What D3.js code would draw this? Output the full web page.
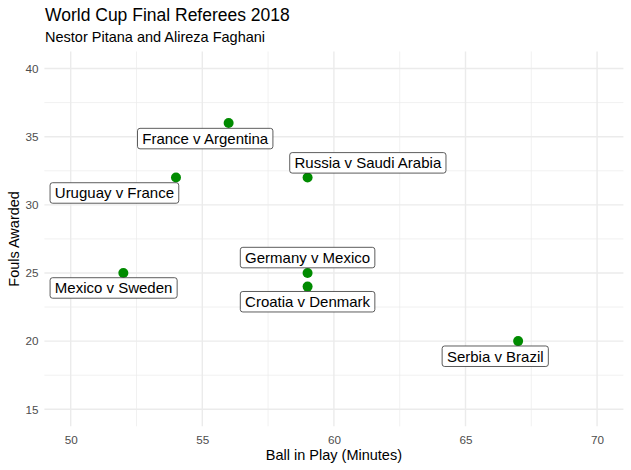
<!DOCTYPE html>
<html>
<head>
<meta charset="utf-8">
<script src="https://cdn.jsdelivr.net/npm/d3@7"></script>
<style>
  html, body { margin: 0; padding: 0; background: #fff; }
  text { font-family: "Liberation Sans", Arial, Helvetica, sans-serif; }
</style>
</head>
<body>
<svg id="chart" width="631" height="470"></svg>
<script>
// ---- data ----
const matches = ["Mexico v Sweden", "Uruguay v France", "France v Argentina", "Russia v Saudi Arabia", "Germany v Mexico", "Croatia v Denmark", "Serbia v Brazil"];
const ballInPlay = [52, 54, 56, 59, 59, 59, 67];
const foulsAwarded = [25, 32, 36, 32, 25, 24, 20];
// repelled label centres (data units), as placed in the reference
const labelX = [51.63, 51.66, 55.11, 61.29, 59.0, 59.0, 66.13];
const labelY = [23.90, 30.87, 34.86, 33.08, 26.13, 22.89, 18.89];
const xTicks = [50, 55, 60, 65, 70];
const yTicks = [15, 20, 25, 30, 35, 40];
const xMinor = [47.5, 52.5, 57.5, 62.5, 67.5];
const yMinor = [17.5, 22.5, 27.5, 32.5, 37.5];

const svg = d3.select("#chart");
const x = d3.scaleLinear().domain([49, 71]).range([44.4, 623.4]);
const y = d3.scaleLinear().domain([13.75, 41.25]).range([426.3, 51.5]);

const grid = svg.append("g");
// minor grid
grid.selectAll(".vmin").data(xMinor.filter(d => d > 49 && d < 71)).enter().append("line")
  .attr("x1", d => x(d)).attr("x2", d => x(d)).attr("y1", y.range()[0]).attr("y2", y.range()[1])
  .attr("stroke", "#EBEBEB").attr("stroke-width", 0.7);
grid.selectAll(".hmin").data(yMinor).enter().append("line")
  .attr("y1", d => y(d)).attr("y2", d => y(d)).attr("x1", x.range()[0]).attr("x2", x.range()[1])
  .attr("stroke", "#EBEBEB").attr("stroke-width", 0.7);
// major grid
grid.selectAll(".vmaj").data(xTicks).enter().append("line")
  .attr("x1", d => x(d)).attr("x2", d => x(d)).attr("y1", y.range()[0]).attr("y2", y.range()[1])
  .attr("stroke", "#EBEBEB").attr("stroke-width", 1.4);
grid.selectAll(".hmaj").data(yTicks).enter().append("line")
  .attr("y1", d => y(d)).attr("y2", d => y(d)).attr("x1", x.range()[0]).attr("x2", x.range()[1])
  .attr("stroke", "#EBEBEB").attr("stroke-width", 1.4);

// axes (labels only, via d3 axes)
const xAxis = svg.append("g").attr("transform", `translate(0,${y.range()[0]})`)
  .call(d3.axisBottom(x).tickValues(xTicks).tickSize(0).tickPadding(9));
const yAxis = svg.append("g").attr("transform", `translate(${x.range()[0]},0)`)
  .call(d3.axisLeft(y).tickValues(yTicks).tickSize(0).tickPadding(6));
[xAxis, yAxis].forEach(a => {
  a.select(".domain").remove();
  a.selectAll("text").attr("fill", "#4D4D4D").style("font-size", "11.7px")
    .style("font-family", '"Liberation Sans", Arial, sans-serif');
});

// points
svg.append("g").selectAll("circle").data(matches).enter().append("circle")
  .attr("cx", (d, i) => x(ballInPlay[i])).attr("cy", (d, i) => y(foulsAwarded[i]))
  .attr("r", 5).attr("fill", "#008B00");

// labels
const lg = svg.append("g");
matches.forEach((m, i) => {
  const g = lg.append("g").attr("transform", `translate(${x(labelX[i])},${y(labelY[i])})`);
  const rect = g.append("rect");
  const t = g.append("text").text(m).attr("text-anchor", "middle").attr("dy", "0.36em")
    .style("font-size", "15px").attr("fill", "#000");
  const w = t.node().getComputedTextLength() + 9.5;
  const h = 20.5;
  rect.attr("x", -w / 2).attr("y", -h / 2).attr("width", w).attr("height", h)
    .attr("rx", 2.5).attr("ry", 2.5).attr("fill", "#fff").attr("stroke", "#333").attr("stroke-width", 0.8);
});

// titles
svg.append("text").attr("x", 45).attr("y", 21).text("World Cup Final Referees 2018")
  .style("font-size", "17.5px").attr("fill", "#000");
svg.append("text").attr("x", 45).attr("y", 42).text("Nestor Pitana and Alireza Faghani")
  .style("font-size", "14.5px").attr("fill", "#000");
svg.append("text").attr("x", (x.range()[0] + x.range()[1]) / 2).attr("y", 460).attr("text-anchor", "middle")
  .text("Ball in Play (Minutes)").style("font-size", "14.5px").attr("fill", "#000");
svg.append("text").attr("transform", `translate(19,${(y.range()[0] + y.range()[1]) / 2}) rotate(-90)`)
  .attr("text-anchor", "middle").text("Fouls Awarded").style("font-size", "14.5px").attr("fill", "#000");
</script>
</body>
</html>
